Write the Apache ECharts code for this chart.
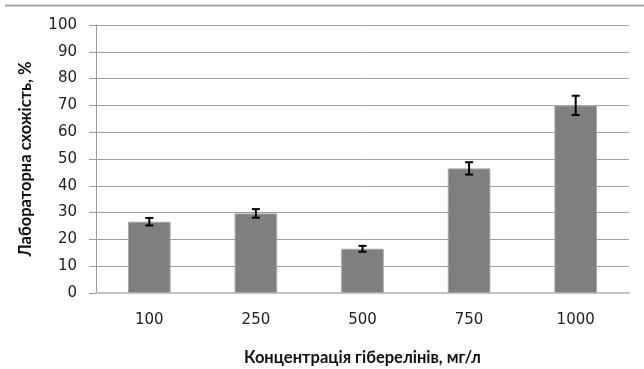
<!DOCTYPE html>
<html>
<head>
<meta charset="utf-8">
<script src="https://cdn.jsdelivr.net/npm/echarts@6/dist/echarts.min.js"></script>
<style>html,body{margin:0;padding:0;background:#fff}#c{width:644px;height:369px}</style>
</head>
<body>
<div id="c"></div>
<script>
var categories = ['100', '250', '500', '750', '1000'];
var values = [26.6, 29.7, 16.5, 46.5, 70.0];
var errors = [1.4, 1.6, 1.1, 2.3, 3.6];
var yTicks = [0, 10, 20, 30, 40, 50, 60, 70, 80, 90, 100];

var chart = echarts.init(document.getElementById('c'), null, {renderer: 'canvas'});
var errData = values.map(function (v, i) { return [i, v - errors[i], v + errors[i]]; });

chart.setOption({
  animation: false,
  backgroundColor: '#fff',
  grid: {left: 96, right: 15, top: 25, bottom: 76, outerBoundsMode: 'none', containLabel: false},
  graphic: [{
    type: 'line', shape: {x1: 5, y1: 5.5, x2: 644, y2: 5.5},
    style: {stroke: '#a3a3a3', lineWidth: 2}
  }],
  xAxis: {
    type: 'category', data: categories,
    axisLine: {lineStyle: {color: '#c4c4c4', width: 2}},
    axisTick: {show: false},
    axisLabel: {color: '#222', fontFamily: 'DejaVu Sans', fontSize: 15, margin: 20},
    name: 'Концентрація гіберелінів, мг/л',
    nameLocation: 'middle', nameGap: 56,
    nameTextStyle: {color: '#111', fontFamily: 'Lato', fontWeight: 'bold', fontSize: 16.5}
  },
  yAxis: {
    type: 'value', min: yTicks[0], max: yTicks[yTicks.length - 1], interval: 10,
    axisLine: {show: true, lineStyle: {color: '#9a9a9a', width: 1}},
    axisTick: {show: true, length: 7, lineStyle: {color: '#a0a0a0'}},
    splitLine: {lineStyle: {color: '#a0a0a0', width: 1}},
    axisLabel: {color: '#222', fontFamily: 'DejaVu Sans', fontSize: 15, margin: 19},
    name: 'Лабораторна схожість, %',
    nameLocation: 'middle', nameGap: 62,
    nameTextStyle: {color: '#111', fontFamily: 'Lato', fontWeight: 'bold', fontSize: 16.5}
  },
  series: [{
    type: 'bar', data: values, barWidth: '40%',
    itemStyle: {color: '#7f7f7f', borderColor: '#a8a8a8', borderWidth: 1}
  }, {
    type: 'custom', data: errData, z: 10,
    renderItem: function (params, api) {
      var x = api.value(0);
      var lo = api.coord([x, api.value(1)]);
      var hi = api.coord([x, api.value(2)]);
      var h = 4;
      var st = {stroke: '#000', lineWidth: 2};
      return {type: 'group', children: [
        {type: 'line', shape: {x1: lo[0], y1: lo[1], x2: hi[0], y2: hi[1]}, style: st},
        {type: 'line', shape: {x1: lo[0] - h, y1: lo[1], x2: lo[0] + h, y2: lo[1]}, style: st},
        {type: 'line', shape: {x1: hi[0] - h, y1: hi[1], x2: hi[0] + h, y2: hi[1]}, style: st}
      ]};
    }
  }]
});
</script>
</body>
</html>
